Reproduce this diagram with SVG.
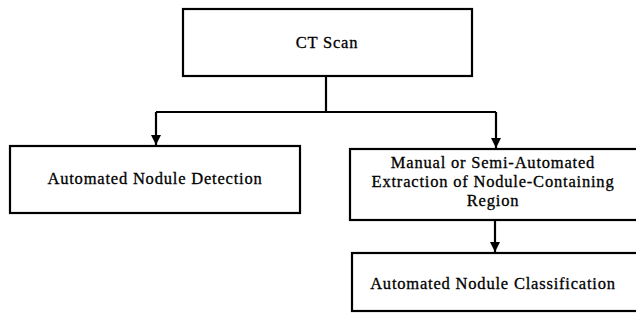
<svg xmlns="http://www.w3.org/2000/svg" width="636" height="322" viewBox="0 0 636 322">
<defs>
<style>
.box{fill:#fff;stroke:#000;stroke-width:2.2}
.t{font-family:"Liberation Serif","Times New Roman",serif;font-size:16.5px;letter-spacing:0.8px;fill:#000;text-anchor:middle;stroke:#000;stroke-width:0.3}
.c{fill:none;stroke:#000;stroke-width:2.2}
</style>
<marker id="ah" viewBox="0 0 10 10" refX="10" refY="5" markerWidth="10" markerHeight="10" markerUnits="userSpaceOnUse" orient="auto">
<path d="M0,0 L10,5 L0,10 Z" fill="#000"/>
</marker>
</defs>
<rect width="636" height="322" fill="#fff"/>
<g id="connectors">
<path class="c" d="M326,76 V112"/>
<path class="c" d="M156,112 H496"/>
<path class="c" d="M156,112 V145" marker-end="url(#ah)"/>
<path class="c" d="M496,112 V148" marker-end="url(#ah)"/>
<path class="c" d="M495,220 V252" marker-end="url(#ah)"/>
</g>
<g id="ct-scan">
<rect class="box" x="183" y="9" width="289" height="67"/>
<text class="t" x="327" y="48">CT Scan</text>
</g>
<g id="detection">
<rect class="box" x="10" y="146" width="290" height="67"/>
<text class="t" x="155" y="184">Automated Nodule Detection</text>
</g>
<g id="extraction">
<rect class="box" x="350" y="149" width="300" height="71"/>
<text class="t" x="493" y="168">Manual or Semi-Automated</text>
<text class="t" x="493" y="187">Extraction of Nodule-Containing</text>
<text class="t" x="493" y="206">Region</text>
</g>
<g id="classification">
<rect class="box" x="352" y="253" width="300" height="58"/>
<text class="t" x="493" y="289">Automated Nodule Classification</text>
</g>
</svg>
